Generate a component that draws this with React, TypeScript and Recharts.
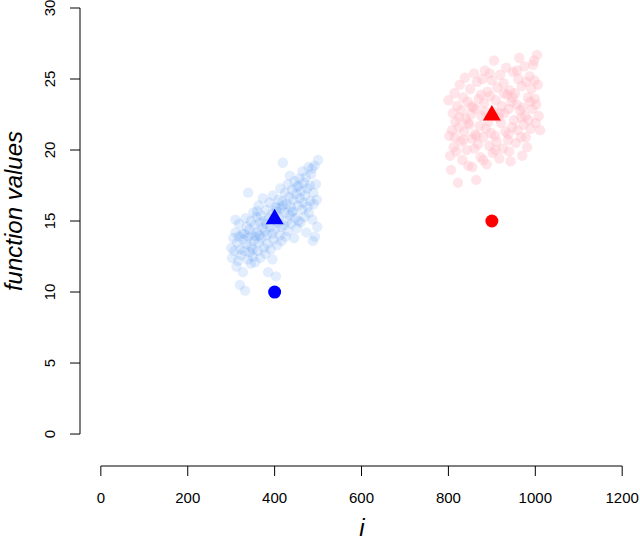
import { ScatterChart, Scatter, XAxis, YAxis, ReferenceLine } from 'recharts'

// page has default 8px body margin; the chart fills the window
if (typeof document !== 'undefined') {
  document.body.style.margin = '0'
  document.body.style.overflow = 'hidden'
}

const xTicks = [0, 200, 400, 600, 800, 1000, 1200]
const yTicks = [0, 5, 10, 15, 20, 25, 30]

// sampled function values, group around i = 400
const bluePoints: [number, number][] = [
  [300, 13.1], [302, 12.4], [305, 13.8], [307, 12.9], [310, 14.2], [312, 11.8], [314, 13.5], [316, 12.2],
  [318, 14.8], [320, 10.5], [321, 13.0], [323, 12.6], [325, 14.1], [327, 11.4], [328, 13.7], [330, 12.9],
  [332, 10.1], [333, 15.2], [335, 13.4], [336, 14.6], [338, 12.3], [339, 17.0], [340, 13.9], [342, 14.4],
  [343, 12.8], [345, 15.0], [346, 13.2], [348, 14.0], [350, 12.5], [351, 15.6], [352, 13.6], [354, 14.7],
  [355, 12.1], [357, 13.9], [358, 15.3], [360, 14.2], [361, 12.9], [363, 16.1], [364, 13.5], [366, 14.9],
  [367, 12.4], [369, 15.4], [370, 13.8], [372, 14.5], [373, 16.6], [375, 13.1], [376, 15.0], [378, 14.3],
  [379, 12.7], [381, 15.8], [382, 14.0], [384, 13.4], [385, 11.4], [387, 15.2], [388, 16.3], [390, 14.6],
  [391, 13.0], [393, 15.5], [394, 14.1], [396, 16.8], [397, 13.7], [399, 15.1], [400, 14.4], [402, 16.0],
  [403, 11.1], [404, 15.7], [406, 13.3], [407, 14.9], [409, 16.5], [410, 15.3], [412, 14.0], [413, 17.3],
  [415, 15.9], [416, 13.6], [418, 16.4], [419, 19.1], [421, 14.7], [422, 15.6], [424, 17.0], [425, 13.9],
  [427, 16.2], [428, 15.0], [430, 17.6], [431, 14.3], [433, 16.7], [434, 15.4], [435, 18.2], [437, 16.0],
  [438, 14.8], [440, 17.2], [442, 15.7], [443, 16.5], [445, 13.8], [446, 17.8], [448, 15.2], [449, 16.9],
  [451, 14.5], [452, 17.4], [454, 16.1], [455, 15.0], [457, 18.0], [458, 16.6], [460, 14.9], [461, 17.1],
  [463, 15.8], [464, 18.5], [466, 16.3], [467, 17.7], [469, 15.3], [470, 16.8], [472, 18.1], [473, 14.2],
  [475, 17.3], [476, 16.0], [478, 18.8], [479, 15.6], [481, 17.5], [482, 16.4], [484, 18.3], [486, 18.7],
  [487, 15.1], [489, 17.0], [490, 16.2], [492, 18.9], [493, 13.9], [495, 17.6], [497, 16.5], [500, 19.3],
  [498, 14.6], [488, 13.6], [395, 12.3], [310, 15.1], [318, 13.9], [350, 13.0], [365, 14.0], [380, 14.8],
  [345, 12.0], [330, 14.1], [360, 15.7], [420, 16.1], [440, 15.6], [405, 15.9], [415, 14.6], [455, 17.5],
]

// sampled function values, group around i = 900
const pinkPoints: [number, number][] = [
  [800, 23.5], [802, 21.0], [804, 19.6], [806, 18.6], [808, 21.4], [810, 22.6], [812, 20.2], [814, 24.0],
  [816, 22.0], [818, 19.9], [820, 23.1], [822, 17.7], [824, 21.6], [826, 24.6], [828, 20.6], [830, 22.8],
  [832, 19.3], [834, 23.7], [836, 21.3], [838, 25.1], [840, 22.2], [842, 20.0], [844, 23.4], [846, 18.9],
  [848, 21.8], [850, 24.3], [852, 22.5], [854, 20.8], [855, 18.8], [857, 23.0], [859, 25.4], [861, 21.1],
  [863, 22.9], [864, 17.9], [866, 24.8], [868, 20.4], [870, 23.6], [872, 21.7], [874, 19.5], [876, 22.4],
  [878, 25.0], [880, 20.9], [882, 23.3], [884, 25.6], [886, 21.5], [888, 19.0], [890, 24.1], [892, 22.0],
  [894, 20.3], [896, 23.8], [898, 21.2], [900, 24.9], [902, 19.8], [904, 22.7], [905, 26.3], [907, 21.0],
  [909, 23.5], [911, 20.6], [913, 24.4], [915, 22.3], [917, 19.4], [919, 25.3], [921, 21.9], [923, 23.1],
  [925, 20.1], [927, 24.7], [929, 22.6], [931, 21.3], [933, 25.8], [935, 23.9], [937, 20.7], [939, 22.9],
  [941, 24.2], [943, 19.2], [945, 23.4], [947, 21.6], [949, 25.5], [951, 22.1], [953, 24.0], [955, 20.5],
  [957, 23.2], [959, 21.4], [961, 25.0], [963, 26.5], [965, 22.8], [967, 20.9], [969, 24.5], [971, 23.0],
  [973, 21.8], [975, 25.9], [977, 22.4], [979, 24.8], [981, 20.2], [983, 23.7], [985, 22.1], [987, 25.2],
  [989, 21.5], [991, 24.3], [993, 22.9], [995, 26.0], [997, 26.3], [999, 23.6], [1001, 21.9], [1002, 23.2],
  [1004, 26.7], [1006, 24.6], [1008, 22.4], [1011, 21.4], [815, 20.9], [825, 22.3], [835, 20.7], [845, 21.9],
  [853, 23.1], [865, 21.0], [875, 23.9], [885, 22.7], [895, 25.4], [908, 20.0], [918, 22.6], [928, 24.0],
  [938, 21.1], [948, 23.7], [958, 25.6], [968, 22.3], [978, 20.9], [988, 23.4], [998, 24.9], [860, 20.1],
  [880, 19.3], [940, 19.9], [970, 19.6],
]

// group means (triangles) and reference values (dots)
const blueMean = [{ x: 400, y: 15.2 }]
const blueRef = [{ x: 400, y: 10 }]
const redMean = [{ x: 900, y: 22.5 }]
const redRef = [{ x: 900, y: 15 }]

const toRows = (pts: [number, number][]) => pts.map(([x, y]) => ({ x, y }))

const FONT = '"Liberation Sans", Arial, Helvetica, sans-serif'

const cloud = (fill: string, opacity: number) => (props: any) => (
  <circle cx={props.cx} cy={props.cy} r={5.2} fill={fill} fillOpacity={opacity} />
)

const dot = (fill: string) => (props: any) => (
  <circle cx={props.cx} cy={props.cy} r={6.5} fill={fill} />
)

const triangle = (fill: string) => (props: any) => {
  const { cx, cy } = props
  return <polygon points={`${cx},${cy - 9.5} ${cx - 9},${cy + 6} ${cx + 9},${cy + 6}`} fill={fill} />
}

const XTick = (props: any) => {
  const x = props.x
  return (
    <g>
      <line x1={x} y1={466} x2={x} y2={476} stroke="#000" />
      <text x={x} y={503} textAnchor="middle" fontSize={15} fontFamily={FONT} fill="#000">
        {props.payload.value}
      </text>
    </g>
  )
}

const YTick = (props: any) => {
  const y = props.y
  return (
    <g>
      <line x1={70} y1={y} x2={80} y2={y} stroke="#000" />
      <text x={55} y={y} transform={`rotate(-90, 55, ${y})`} textAnchor="middle" fontSize={15} fontFamily={FONT} fill="#000">
        {props.payload.value}
      </text>
    </g>
  )
}

const XTitle = () => (
  <text x={362} y={536} textAnchor="middle" fontSize={24} fontStyle="italic" fontFamily={FONT} fill="#000">
    i
  </text>
)

const YTitle = () => (
  <text x={22} y={211} transform="rotate(-90, 22, 211)" textAnchor="middle" fontSize={24} fontStyle="italic" fontFamily={FONT} fill="#000">
    function values
  </text>
)

export default function App() {
  return (
    <div style={{ width: 640, height: 541, background: '#fff' }}>
      <ScatterChart width={640} height={541} margin={{ top: 8, right: 0, bottom: 0, left: 0 }}>
        <XAxis
          type="number"
          dataKey="x"
          domain={[-48, 1241]}
          allowDataOverflow
          ticks={xTicks}
          height={75}
          axisLine={false}
          tickLine={false}
          tick={<XTick />}
          interval={0}
          label={<XTitle />}
        />
        <YAxis
          type="number"
          dataKey="y"
          domain={[-2.25, 30]}
          allowDataOverflow
          ticks={yTicks}
          width={80}
          axisLine={false}
          tickLine={false}
          tick={<YTick />}
          interval={0}
          label={<YTitle />}
        />
        <ReferenceLine segment={[{ x: 0, y: -2.25 }, { x: 1200, y: -2.25 }]} stroke="#000" ifOverflow="visible" />
        <ReferenceLine segment={[{ x: -48, y: 0 }, { x: -48, y: 30 }]} stroke="#000" ifOverflow="visible" />
        <Scatter data={toRows(bluePoints)} shape={cloud('#4A8CF0', 0.16)} isAnimationActive={false} />
        <Scatter data={toRows(pinkPoints)} shape={cloud('#FFB6C1', 0.36)} isAnimationActive={false} />
        <Scatter data={blueRef} shape={dot('#0000FF')} isAnimationActive={false} />
        <Scatter data={blueMean} shape={triangle('#0000FF')} isAnimationActive={false} />
        <Scatter data={redRef} shape={dot('#FF0000')} isAnimationActive={false} />
        <Scatter data={redMean} shape={triangle('#FF0000')} isAnimationActive={false} />
      </ScatterChart>
    </div>
  )
}
